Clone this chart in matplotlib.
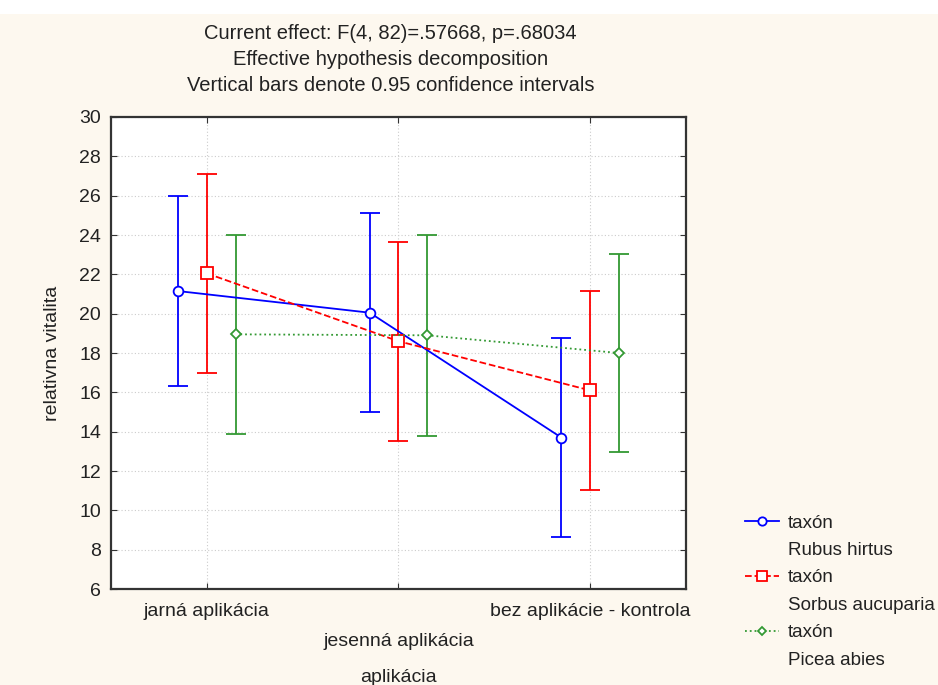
import numpy as np
import matplotlib
matplotlib.use("Agg")
from matplotlib import pyplot as plt
from matplotlib.lines import Line2D
from matplotlib.patches import Rectangle

categories = ["jarná aplikácia", "jesenná aplikácia", "bez aplikácie - kontrola"]
taxa = ["Rubus hirtus", "Sorbus aucuparia", "Picea abies"]
rubus_mean = [21.15, 20.05, 13.7]
rubus_ci = [4.85, 5.05, 5.07]
sorbus_mean = [22.05, 18.6, 16.1]
sorbus_ci = [5.05, 5.05, 5.07]
picea_mean = [18.95, 18.9, 18.0]
picea_ci = [5.05, 5.1, 5.05]
yticks = list(range(6, 31, 2))

plt.rcParams["font.family"] = ["Liberation Sans", "DejaVu Sans"]
bg = "#fdf8ef"
txt = "#222222"
fs = 14

fig = plt.figure(figsize=(9.38, 6.85), dpi=100, facecolor=bg)
fig.patches.append(Rectangle((0, 1 - 14 / 685), 1, 14 / 685, transform=fig.transFigure,
                             facecolor="white", edgecolor="none", zorder=-1))
ax = fig.add_axes([0.1183, 0.1401, 0.7313 - 0.1183, 0.8292 - 0.1401])
ax.set_facecolor("white")

x = np.arange(len(categories))
series = [
    (rubus_mean, rubus_ci, "#0000ff", "-", "o", 7, -0.15),
    (sorbus_mean, sorbus_ci, "#ff0000", "--", "s", 8, 0.0),
    (picea_mean, picea_ci, "#339933", ":", "D", 5.5, 0.15),
]
handles = []
for mean, ci, col, ls, mk, ms, off in series:
    ax.errorbar(x + off, mean, yerr=ci, color=col, ls=ls, lw=1.3, marker=mk, ms=ms,
                mfc="white", mec=col, mew=1.3, capsize=7, capthick=1.3, elinewidth=1.3,
                zorder=3)
    handles.append(Line2D([], [], color=col, ls=ls, lw=1.3, marker=mk, ms=ms - 1,
                          mfc="white", mec=col, mew=1.3))

ax.set_xlim(-0.5, 2.5)
ax.set_ylim(6, 30)
ax.set_yticks(yticks)
ax.set_xticks(x)
# middle label sits one row lower, as in the original
ax.set_xticklabels([categories[0], "\n" + categories[1], categories[2]])
ax.get_xticklabels()[1].set_linespacing(2.0)
ax.tick_params(axis="both", direction="in", top=True, right=True, length=4,
               labelsize=fs, labelcolor=txt, color="#333333")
ax.tick_params(axis="x", pad=10)
ax.tick_params(axis="y", pad=7)
ax.grid(True, ls=(0, (1, 2)), color="#cccccc", lw=0.8)
for s in ax.spines.values():
    s.set_linewidth(1.6)
    s.set_color("#333333")

ax.set_xlabel("aplikácia", fontsize=fs, color=txt, labelpad=13.5)
ax.set_ylabel("relativna vitalita", fontsize=fs, color=txt, labelpad=13)
ax.set_title("Current effect: F(4, 82)=.57668, p=.68034\n"
             "Effective hypothesis decomposition\n"
             "Vertical bars denote 0.95 confidence intervals",
             fontsize=14.5, color=txt, linespacing=1.47, pad=19, x=0.486)

blank = Line2D([], [], color="none")
leg_h, leg_l = [], []
for h, t in zip(handles, taxa):
    leg_h += [h, blank]
    leg_l += ["taxón", t]
fig.legend(leg_h, leg_l, loc="upper left", bbox_to_anchor=(0.794, 0.249),
           frameon=False, fontsize=13.5, handlelength=1.85, handletextpad=0.45,
           labelspacing=0.55, borderaxespad=0, borderpad=0, labelcolor=txt)

fig.savefig("out.png", dpi=100, facecolor=bg)
